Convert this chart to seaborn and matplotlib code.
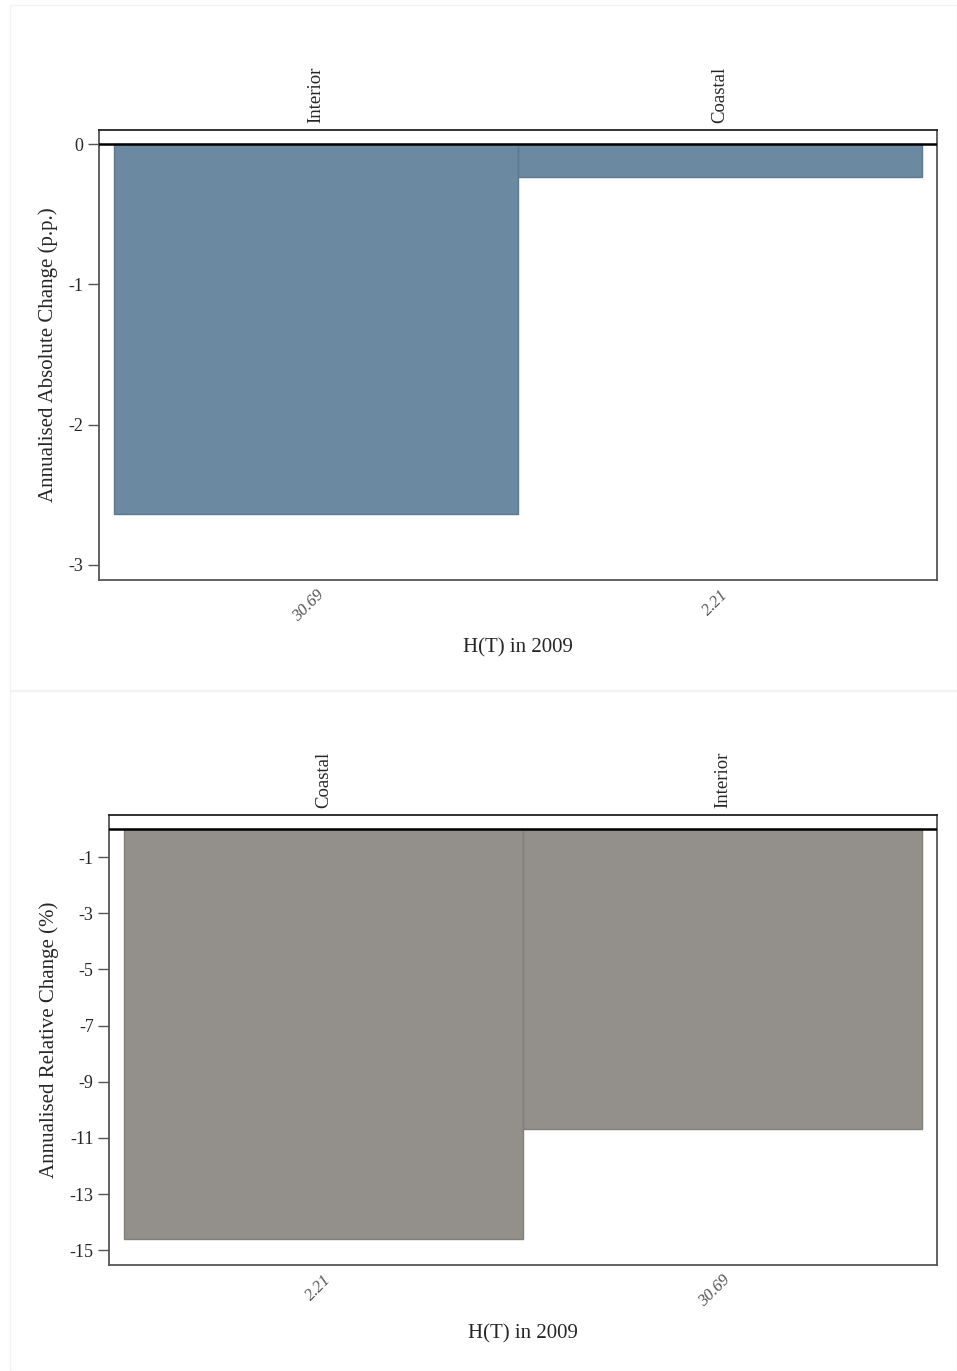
import pandas as pd
import seaborn as sns
import matplotlib.pyplot as plt
from matplotlib.patches import Rectangle

# values
regions_abs = ["Interior", "Coastal"]
ht_abs = ["30.69", "2.21"]
abs_change = [-2.64, -0.235]

regions_rel = ["Coastal", "Interior"]
ht_rel = ["2.21", "30.69"]
rel_change = [-14.6, -10.69]

sns.set_theme(style="white")
plt.rcParams['font.family'] = ['Liberation Serif', 'DejaVu Serif']

fig = plt.figure(figsize=(9.57, 13.71), dpi=100)

# faint panel frames like the exported Stata graphs
for y0, h in [(0.497, 0.499), (0.0, 0.496)]:
    fig.patches.append(Rectangle((0.01, y0), 0.99, h, transform=fig.transFigure,
                                 fill=False, edgecolor="#f2f2f2", linewidth=1))


def panel(rect, regions, hts, values, color, edge, ylim, yticks, ylabel):
    ax = fig.add_axes(rect)
    df = pd.DataFrame({"region": regions, "value": values})
    sns.barplot(data=df, x="region", y="value", order=regions, color=color,
                width=1.0, saturation=1, edgecolor=edge, linewidth=1, ax=ax)
    ax.set_xlim(-0.537, 1.537)
    ax.set_ylim(*ylim)
    ax.axhline(0, color="black", linewidth=1.8, zorder=5)
    ax.set_yticks(yticks)
    ax.set_yticklabels([f"{t:g}" for t in yticks], fontsize=13)
    ax.tick_params(axis="y", length=8, width=1, color="#555555", left=True, pad=3)
    ax.set_xticks([0, 1])
    ax.set_xticklabels(hts, rotation=45, ha="right", va="top", rotation_mode="anchor",
                       fontsize=12, style="italic", color="#555555")
    ax.tick_params(axis="x", length=0, pad=5)
    ax.set_xlabel("H(T) in 2009", fontsize=15, labelpad=10)
    ax.set_ylabel(ylabel, fontsize=15, labelpad=8)
    for side in ["left", "bottom", "right"]:
        ax.spines[side].set_color("#555555")
        ax.spines[side].set_linewidth(1.3)
    ax.spines["top"].set_color("#222222")
    ax.spines["top"].set_linewidth(1.3)

    top = ax.twiny()
    top.set_xlim(ax.get_xlim())
    top.set_xticks([0, 1])
    top.set_xticklabels(regions, rotation=90, fontsize=13.5, va="bottom", ha="center")
    top.tick_params(axis="x", length=0, pad=5)
    for s in top.spines.values():
        s.set_visible(False)
    return ax


panel([0.1034, 0.5770, 0.8757, 0.3282], regions_abs, ht_abs, abs_change,
      "#6b8aa1", "#5b798f", (-3.107, 0.1), [0, -1, -2, -3],
      "Annualised Absolute Change (p.p.)")

panel([0.1139, 0.0773, 0.8652, 0.3282], regions_rel, ht_rel, rel_change,
      "#938f8a", "#827e78", (-15.53, 0.5), list(range(-1, -16, -2)),
      "Annualised Relative Change (%)")

fig.savefig("out.png", dpi=100, facecolor="white")
